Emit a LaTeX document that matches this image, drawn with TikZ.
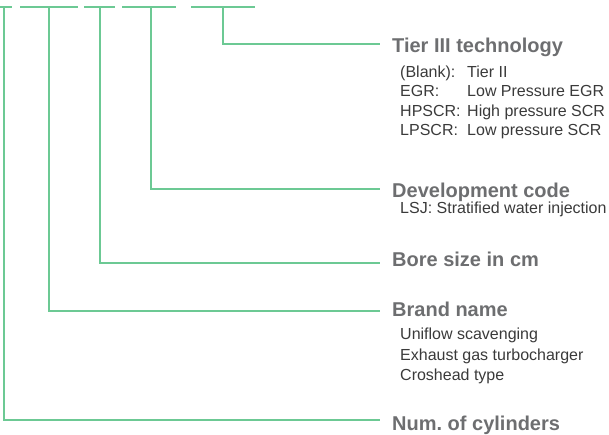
\documentclass[tikz,border=0pt]{standalone}
\usepackage{fontspec}
\setmainfont{Liberation Sans}
\definecolor{lgreen}{HTML}{6CC994}
\definecolor{headgray}{HTML}{6D6E70}
\definecolor{bodygray}{HTML}{3A3A3A}
\begin{document}
\begin{tikzpicture}[x=1pt,y=-1pt,
  conn/.style={draw=lgreen,line width=1.3pt},
  head/.style={anchor=base west,inner sep=0pt,font=\fontsize{20}{20}\selectfont\bfseries,text=headgray},
  body/.style={anchor=base west,inner sep=0pt,font=\fontsize{16}{16}\selectfont,text=bodygray}]
\useasboundingbox (0,0) rectangle (609,434);
% top bars
\draw[conn] (0,7) -- (12,7);
\draw[conn] (20,7) -- (78,7);
\draw[conn] (84,7) -- (115,7);
\draw[conn] (122,7) -- (176,7);
\draw[conn] (191,7) -- (255,7);
\coordinate (v1) at (4,7);
\coordinate (v2) at (49,7);
\coordinate (v3) at (100,7);
\coordinate (v4) at (151,7);
\coordinate (v5) at (223,7);
% headings
\node[head] (h5) at (392,52.7) {Tier III technology};
\node[head] (h4) at (392,197.3) {Development code};
\node[head] (h3) at (392,266) {Bore size in cm};
\node[head] (h2) at (392,316) {Brand name};
\node[head] (h1) at (392,430) {Num.\ of cylinders};
% line ends
\coordinate (e5) at (380,44);
\coordinate (e4) at (380,189);
\coordinate (e3) at (380,263);
\coordinate (e2) at (380,311);
\coordinate (e1) at (380,420);
\draw[conn] (v5) |- (e5);
\draw[conn] (v4) |- (e4);
\draw[conn] (v3) |- (e3);
\draw[conn] (v2) |- (e2);
\draw[conn] (v1) |- (e1);
% body texts
\node[body] (b1) at (400,77.3) {(Blank):};
\node[body] (b1v) at (467,77.3) {Tier II};
\node[body] (b2) at (400,96.7) {EGR:};
\node[body] (b2v) at (467,96.7) {Low Pressure EGR};
\node[body] (b3) at (400,116) {HPSCR:};
\node[body] (b3v) at (467,116) {High pressure SCR};
\node[body] (b4) at (400,135) {LPSCR:};
\node[body] (b4v) at (467,135) {Low pressure SCR};
\node[body] (d1) at (400,213.3) {LSJ: Stratified water injection};
\node[body] (r1) at (400,339.3) {Uniflow scavenging};
\node[body] (r2) at (400,360) {Exhaust gas turbocharger};
\node[body] (r3) at (400,380.7) {Croshead type};
\end{tikzpicture}
\end{document}
